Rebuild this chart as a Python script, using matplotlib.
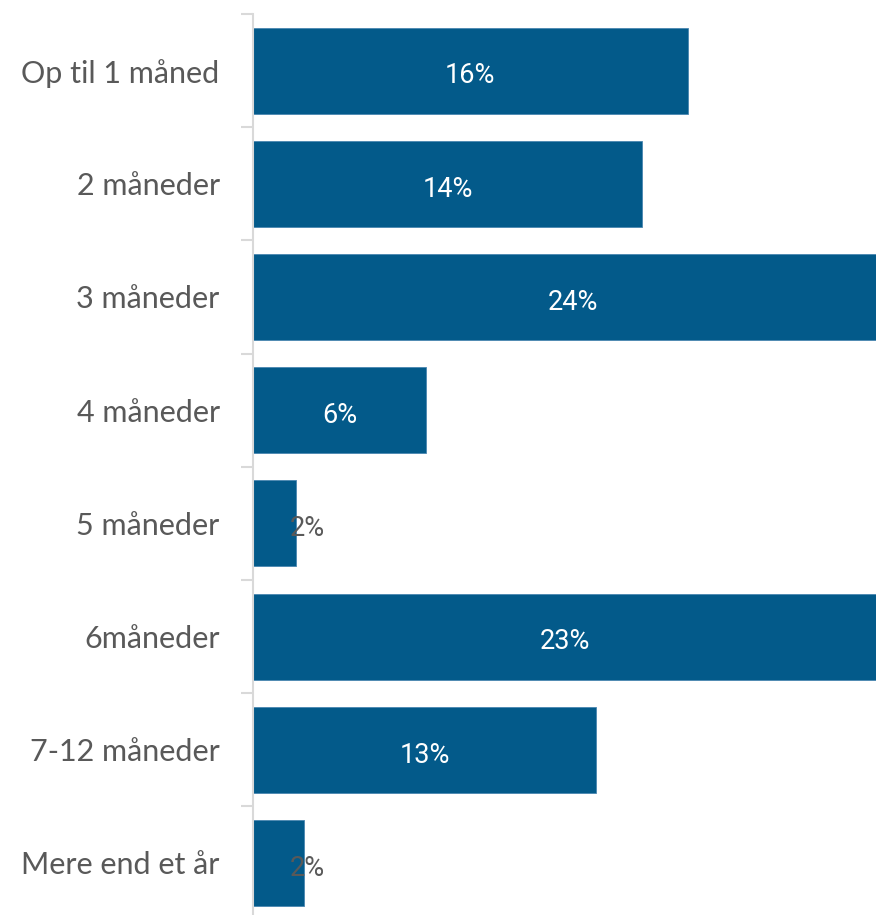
import numpy as np
import matplotlib.pyplot as plt

# Data (share of respondents, %)
categories = ["Op til 1 måned", "2 måneder", "3 måneder", "4 måneder",
              "5 måneder", "6måneder", "7-12 måneder", "Mere end et år"]
values = [16.1, 14.4, 23.7, 6.4, 1.6, 23.1, 12.7, 1.9]
labels = ["16%", "14%", "24%", "6%", "2%", "23%", "13%", "2%"]

bar_color = "#035a8a"
text_grey = "#595959"
line_grey = "#d9d9d9"

fig = plt.figure(figsize=(8.76, 9.15), dpi=100)
# axes spans from the spine to the right edge; bottom runs slightly past the figure
ax = fig.add_axes([253 / 876, -4.6 / 915, 623 / 876, 905.6 / 915])

y = np.arange(len(categories))
ax.barh(y, values, height=0.76, color=bar_color, edgecolor="#4a86b0", linewidth=0.6)

ax.set_xlim(0, 623 / 27)
ax.set_ylim(len(categories) - 0.5, -0.5)

for i, (v, lab) in enumerate(zip(values, labels)):
    xpos = max(v / 2, 2.0)
    col = "white" if v > 4 else text_grey
    ax.text(xpos, i + 0.02, lab, ha="center", va="center_baseline", color=col,
            fontsize=19.5, family="Roboto", fontweight="normal")

ax.set_yticks(y)
ax.set_yticklabels(categories, fontsize=22, color=text_grey, family="Lato")
ax.tick_params(axis="y", length=0, pad=24)
ax.set_yticks(np.arange(len(categories) + 1) - 0.5, minor=True)
ax.tick_params(axis="y", which="minor", length=9, width=1.5, color=line_grey)
ax.set_xticks([])

for side in ["top", "right", "bottom"]:
    ax.spines[side].set_visible(False)
ax.spines["left"].set_color(line_grey)
ax.spines["left"].set_linewidth(1.5)

fig.savefig("out.png", dpi=100)
